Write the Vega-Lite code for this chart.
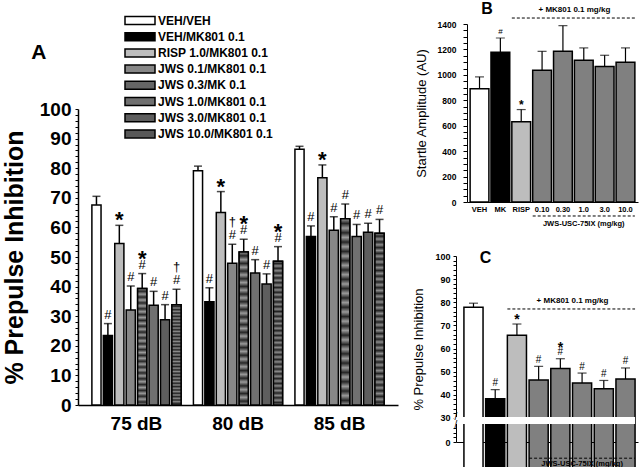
{
  "$schema": "https://vega.github.io/schema/vega-lite/v6.json",
  "background": "white",
  "padding": {"left": 2, "top": 0, "right": 0, "bottom": 0},
  "config": {
    "font": "Liberation Sans",
    "view": {"stroke": null},
    "axis": {"grid": false, "domainColor": "black", "tickColor": "black", "labelColor": "black", "titleColor": "black", "labelOverlap": false},
    "text": {"color": "black"}
  },
  "resolve": {"scale": {"fill": "independent"}, "legend": {"fill": "independent"}},
  "columns": 2,
  "spacing": 14,
  "align": "none",
  "concat": [
    {
      "width": 320,
      "height": 400,
      "title": {"text": "A", "anchor": "start", "frame": "bounds", "fontSize": 21, "fontWeight": "bold", "baseline": "alphabetic", "offset": -75, "dx": 29, "color": "black"},
      "data": {"values": [
        {"db": "75 dB", "g": "VEH/VEH", "v": 67.6, "hi": 70.5, "s1": "", "s2": ""},
        {"db": "75 dB", "g": "VEH/MK801 0.1", "v": 23.5, "hi": 27.5, "s1": "#", "s2": ""},
        {"db": "75 dB", "g": "RISP 1.0/MK801 0.1", "v": 54.6, "hi": 60.7, "s1": "*", "s2": ""},
        {"db": "75 dB", "g": "JWS 0.1/MK801 0.1", "v": 32.1, "hi": 40.2, "s1": "#", "s2": ""},
        {"db": "75 dB", "g": "JWS 0.3/MK 0.1", "v": 39.4, "hi": 44.4, "s1": "#", "s2": "*"},
        {"db": "75 dB", "g": "JWS 1.0/MK801 0.1", "v": 33.7, "hi": 38.4, "s1": "#", "s2": ""},
        {"db": "75 dB", "g": "JWS 3.0/MK801 0.1", "v": 28.8, "hi": 33.9, "s1": "#", "s2": ""},
        {"db": "75 dB", "g": "JWS 10.0/MK801 0.1", "v": 33.9, "hi": 39.1, "s1": "#", "s2": "†"},
        {"db": "80 dB", "g": "VEH/VEH", "v": 79.1, "hi": 80.7, "s1": "", "s2": ""},
        {"db": "80 dB", "g": "VEH/MK801 0.1", "v": 34.9, "hi": 39.6, "s1": "#", "s2": ""},
        {"db": "80 dB", "g": "RISP 1.0/MK801 0.1", "v": 65.0, "hi": 72.1, "s1": "*", "s2": ""},
        {"db": "80 dB", "g": "JWS 0.1/MK801 0.1", "v": 47.9, "hi": 54.3, "s1": "#", "s2": "†"},
        {"db": "80 dB", "g": "JWS 0.3/MK 0.1", "v": 51.7, "hi": 56.0, "s1": "#", "s2": "*"},
        {"db": "80 dB", "g": "JWS 1.0/MK801 0.1", "v": 44.6, "hi": 49.1, "s1": "#", "s2": ""},
        {"db": "80 dB", "g": "JWS 3.0/MK801 0.1", "v": 40.9, "hi": 44.3, "s1": "#", "s2": ""},
        {"db": "80 dB", "g": "JWS 10.0/MK801 0.1", "v": 48.6, "hi": 53.5, "s1": "#", "s2": "*"},
        {"db": "85 dB", "g": "VEH/VEH", "v": 86.4, "hi": 87.4, "s1": "", "s2": ""},
        {"db": "85 dB", "g": "VEH/MK801 0.1", "v": 56.9, "hi": 60.5, "s1": "#", "s2": ""},
        {"db": "85 dB", "g": "RISP 1.0/MK801 0.1", "v": 76.8, "hi": 81.1, "s1": "*", "s2": ""},
        {"db": "85 dB", "g": "JWS 0.1/MK801 0.1", "v": 59.0, "hi": 63.6, "s1": "#", "s2": ""},
        {"db": "85 dB", "g": "JWS 0.3/MK 0.1", "v": 62.9, "hi": 67.9, "s1": "#", "s2": ""},
        {"db": "85 dB", "g": "JWS 1.0/MK801 0.1", "v": 56.9, "hi": 61.0, "s1": "#", "s2": ""},
        {"db": "85 dB", "g": "JWS 3.0/MK801 0.1", "v": 58.4, "hi": 61.4, "s1": "#", "s2": ""},
        {"db": "85 dB", "g": "JWS 10.0/MK801 0.1", "v": 58.0, "hi": 62.7, "s1": "#", "s2": ""}
      ]},
      "encoding": {
        "x": {"field": "db", "type": "nominal", "title": null,
          "scale": {"domain": ["75 dB", "80 dB", "85 dB"], "paddingInner": 0, "paddingOuter": 0.076},
          "axis": {"ticks": false, "labelFontSize": 19, "labelFontWeight": "bold", "labelPadding": 9, "labelAngle": 0, "domainWidth": 1.5}},
        "xOffset": {"field": "g", "type": "nominal",
          "scale": {"domain": ["VEH/VEH", "VEH/MK801 0.1", "RISP 1.0/MK801 0.1", "JWS 0.1/MK801 0.1", "JWS 0.3/MK 0.1", "JWS 1.0/MK801 0.1", "JWS 3.0/MK801 0.1", "JWS 10.0/MK801 0.1"], "paddingInner": 0.2, "paddingOuter": 0.54}},
        "y": {"field": "v", "type": "quantitative", "title": "% Prepulse Inhibition",
          "scale": {"domain": [0, 100], "range": [400, 104], "nice": false},
          "axis": {"values": [0,2,4,6,8,10,12,14,16,18,20,22,24,26,28,30,32,34,36,38,40,42,44,46,48,50,52,54,56,58,60,62,64,66,68,70,72,74,76,78,80,82,84,86,88,90,92,94,96,98,100],
            "labelExpr": "datum.value % 10 === 0 ? datum.label : ''", "labelOverlap": false,
            "tickSize": 3, "labelPadding": 4, "labelFontSize": 19, "labelFontWeight": "bold",
            "titleFontSize": 25, "titleFontWeight": "bold", "titlePadding": 12, "domainWidth": 1.5}}
      },
      "layer": [
        {"mark": {"type": "rule", "color": "black", "strokeWidth": 1.5}, "encoding": {"y2": {"field": "hi"}}},
        {"mark": {"type": "tick", "color": "black", "thickness": 1.5, "size": 8}, "encoding": {"y": {"field": "hi", "type": "quantitative", "title": "% Prepulse Inhibition"}}},
        {"mark": {"type": "bar", "stroke": "black", "strokeWidth": 1.5},
          "encoding": {"fill": {"field": "g", "type": "nominal",
            "scale": {"domain": ["VEH/VEH", "VEH/MK801 0.1", "RISP 1.0/MK801 0.1", "JWS 0.1/MK801 0.1", "JWS 0.3/MK 0.1", "JWS 1.0/MK801 0.1", "JWS 3.0/MK801 0.1", "JWS 10.0/MK801 0.1"],
              "range": ["#ffffff", "#000000", "#bdbdbd", "#878787", "#666666", "#707070", "#5e5e5e", "#585858"]},
            "legend": {"orient": "none", "legendX": 46.5, "legendY": 0, "padding": 9.5, "title": null,
              "symbolType": "M-3.75,-1L3.75,-1L3.75,1L-3.75,1Z", "symbolSize": 64, "symbolStrokeColor": "black", "symbolStrokeWidth": 1.5, "symbolOpacity": 1,
              "labelFontSize": 12, "labelFontWeight": "bold", "labelColor": "black", "labelOffset": 12, "rowPadding": 2.2}}}},
        {"transform": [{"filter": "datum.g === 'JWS 0.3/MK 0.1'"}],
          "mark": {"type": "bar", "stroke": "black", "strokeWidth": 1.5,
            "fill": {"gradient": "linear", "x1": 0, "y1": 0, "x2": 0, "y2": 1, "stops": [
              {"offset": 0, "color": "#9a9a9a"}, {"offset": 0.025, "color": "#262626"}, {"offset": 0.05, "color": "#9a9a9a"}, {"offset": 0.075, "color": "#262626"},
              {"offset": 0.1, "color": "#9a9a9a"}, {"offset": 0.125, "color": "#262626"}, {"offset": 0.15, "color": "#9a9a9a"}, {"offset": 0.175, "color": "#262626"},
              {"offset": 0.2, "color": "#9a9a9a"}, {"offset": 0.225, "color": "#262626"}, {"offset": 0.25, "color": "#9a9a9a"}, {"offset": 0.275, "color": "#262626"},
              {"offset": 0.3, "color": "#9a9a9a"}, {"offset": 0.325, "color": "#262626"}, {"offset": 0.35, "color": "#9a9a9a"}, {"offset": 0.375, "color": "#262626"},
              {"offset": 0.4, "color": "#9a9a9a"}, {"offset": 0.425, "color": "#262626"}, {"offset": 0.45, "color": "#9a9a9a"}, {"offset": 0.475, "color": "#262626"},
              {"offset": 0.5, "color": "#9a9a9a"}, {"offset": 0.525, "color": "#262626"}, {"offset": 0.55, "color": "#9a9a9a"}, {"offset": 0.575, "color": "#262626"},
              {"offset": 0.6, "color": "#9a9a9a"}, {"offset": 0.625, "color": "#262626"}, {"offset": 0.65, "color": "#9a9a9a"}, {"offset": 0.675, "color": "#262626"},
              {"offset": 0.7, "color": "#9a9a9a"}, {"offset": 0.725, "color": "#262626"}, {"offset": 0.75, "color": "#9a9a9a"}, {"offset": 0.775, "color": "#262626"},
              {"offset": 0.8, "color": "#9a9a9a"}, {"offset": 0.825, "color": "#262626"}, {"offset": 0.85, "color": "#9a9a9a"}, {"offset": 0.875, "color": "#262626"},
              {"offset": 0.9, "color": "#9a9a9a"}, {"offset": 0.925, "color": "#262626"}, {"offset": 0.95, "color": "#9a9a9a"}, {"offset": 0.975, "color": "#262626"},
              {"offset": 1, "color": "#9a9a9a"}]}},
          "encoding": {}},
        {"transform": [{"filter": "datum.g === 'JWS 10.0/MK801 0.1'"}],
          "mark": {"type": "bar", "stroke": "black", "strokeWidth": 1.5,
            "fill": {"gradient": "linear", "x1": 0, "y1": 0, "x2": 0, "y2": 1, "stops": [
              {"offset": 0, "color": "#8a8a8a"}, {"offset": 0.0167, "color": "#222222"}, {"offset": 0.0333, "color": "#8a8a8a"}, {"offset": 0.05, "color": "#222222"},
              {"offset": 0.0667, "color": "#8a8a8a"}, {"offset": 0.0833, "color": "#222222"}, {"offset": 0.1, "color": "#8a8a8a"}, {"offset": 0.1167, "color": "#222222"},
              {"offset": 0.1333, "color": "#8a8a8a"}, {"offset": 0.15, "color": "#222222"}, {"offset": 0.1667, "color": "#8a8a8a"}, {"offset": 0.1833, "color": "#222222"},
              {"offset": 0.2, "color": "#8a8a8a"}, {"offset": 0.2167, "color": "#222222"}, {"offset": 0.2333, "color": "#8a8a8a"}, {"offset": 0.25, "color": "#222222"},
              {"offset": 0.2667, "color": "#8a8a8a"}, {"offset": 0.2833, "color": "#222222"}, {"offset": 0.3, "color": "#8a8a8a"}, {"offset": 0.3167, "color": "#222222"},
              {"offset": 0.3333, "color": "#8a8a8a"}, {"offset": 0.35, "color": "#222222"}, {"offset": 0.3667, "color": "#8a8a8a"}, {"offset": 0.3833, "color": "#222222"},
              {"offset": 0.4, "color": "#8a8a8a"}, {"offset": 0.4167, "color": "#222222"}, {"offset": 0.4333, "color": "#8a8a8a"}, {"offset": 0.45, "color": "#222222"},
              {"offset": 0.4667, "color": "#8a8a8a"}, {"offset": 0.4833, "color": "#222222"}, {"offset": 0.5, "color": "#8a8a8a"}, {"offset": 0.5167, "color": "#222222"},
              {"offset": 0.5333, "color": "#8a8a8a"}, {"offset": 0.55, "color": "#222222"}, {"offset": 0.5667, "color": "#8a8a8a"}, {"offset": 0.5833, "color": "#222222"},
              {"offset": 0.6, "color": "#8a8a8a"}, {"offset": 0.6167, "color": "#222222"}, {"offset": 0.6333, "color": "#8a8a8a"}, {"offset": 0.65, "color": "#222222"},
              {"offset": 0.6667, "color": "#8a8a8a"}, {"offset": 0.6833, "color": "#222222"}, {"offset": 0.7, "color": "#8a8a8a"}, {"offset": 0.7167, "color": "#222222"},
              {"offset": 0.7333, "color": "#8a8a8a"}, {"offset": 0.75, "color": "#222222"}, {"offset": 0.7667, "color": "#8a8a8a"}, {"offset": 0.7833, "color": "#222222"},
              {"offset": 0.8, "color": "#8a8a8a"}, {"offset": 0.8167, "color": "#222222"}, {"offset": 0.8333, "color": "#8a8a8a"}, {"offset": 0.85, "color": "#222222"},
              {"offset": 0.8667, "color": "#8a8a8a"}, {"offset": 0.8833, "color": "#222222"}, {"offset": 0.9, "color": "#8a8a8a"}, {"offset": 0.9167, "color": "#222222"},
              {"offset": 0.9333, "color": "#8a8a8a"}, {"offset": 0.95, "color": "#222222"}, {"offset": 0.9667, "color": "#8a8a8a"}, {"offset": 0.9833, "color": "#222222"},
              {"offset": 1, "color": "#8a8a8a"}]}},
          "encoding": {}},
        {"transform": [{"filter": "datum.s1 === '#'"}], "mark": {"type": "text", "fontSize": 13, "baseline": "alphabetic", "dy": -5},
          "encoding": {"y": {"field": "hi", "type": "quantitative", "title": "% Prepulse Inhibition"}, "text": {"field": "s1"}}},
        {"transform": [{"filter": "datum.s1 === '*'"}], "mark": {"type": "text", "fontSize": 22, "fontWeight": "bold", "baseline": "alphabetic", "dy": 2},
          "encoding": {"y": {"field": "hi", "type": "quantitative", "title": "% Prepulse Inhibition"}, "text": {"field": "s1"}}},
        {"transform": [{"filter": "datum.s2 === '*'"}], "mark": {"type": "text", "fontSize": 22, "fontWeight": "bold", "baseline": "alphabetic", "dy": -8},
          "encoding": {"y": {"field": "hi", "type": "quantitative", "title": "% Prepulse Inhibition"}, "text": {"field": "s2"}}},
        {"transform": [{"filter": "datum.s2 === '†'"}], "mark": {"type": "text", "fontSize": 13, "baseline": "alphabetic", "dy": -18},
          "encoding": {"y": {"field": "hi", "type": "quantitative", "title": "% Prepulse Inhibition"}, "text": {"field": "s2"}}}
      ]
    },
    {
      "columns": 1,
      "spacing": 21,
      "align": "none",
      "concat": [
        {
          "width": 171,
          "height": 197,
          "data": {"values": [
            {"g": "VEH", "v": 890, "hi": 984, "s": ""},
            {"g": "MK", "v": 1178, "hi": 1290, "s": "#"},
            {"g": "RISP", "v": 631, "hi": 727, "s": "*"},
            {"g": "0.10", "v": 1036, "hi": 1185, "s": ""},
            {"g": "0.30", "v": 1185, "hi": 1387, "s": ""},
            {"g": "1.0", "v": 1115, "hi": 1212, "s": ""},
            {"g": "3.0", "v": 1065, "hi": 1154, "s": ""},
            {"g": "10.0", "v": 1099, "hi": 1212, "s": ""}
          ]},
          "encoding": {
            "x": {"field": "g", "type": "nominal", "title": null,
              "scale": {"domain": ["VEH", "MK", "RISP", "0.10", "0.30", "1.0", "3.0", "10.0"], "paddingInner": 0.1, "paddingOuter": 0.15},
              "axis": {"ticks": false, "labelFontSize": 7.5, "labelFontWeight": "bold", "labelPadding": 3, "labelAngle": 0, "domainWidth": 1}},
            "y": {"field": "v", "type": "quantitative", "title": "Startle Amplitude (AU)",
              "scale": {"domain": [0, 1400], "range": [197, 19], "nice": false},
              "axis": {"values": [0,50,100,150,200,250,300,350,400,450,500,550,600,650,700,750,800,850,900,950,1000,1050,1100,1150,1200,1250,1300,1350,1400],
                "labelExpr": "datum.value % 200 === 0 ? datum.label : ''", "labelOverlap": false,
                "format": "d",
                "tickSize": 4, "labelPadding": 7, "labelFontSize": 8.5, "labelFontWeight": "bold",
                "titleFontSize": 13, "titleFontWeight": "normal", "titlePadding": 9, "domainWidth": 1}}
          },
          "layer": [
            {"mark": {"type": "rule", "color": "black", "strokeWidth": 1.2}, "encoding": {"y2": {"field": "hi"}}},
            {"mark": {"type": "tick", "color": "black", "thickness": 1.2, "size": 9}, "encoding": {"y": {"field": "hi", "type": "quantitative", "title": "Startle Amplitude (AU)"}}},
            {"mark": {"type": "bar", "stroke": "black", "strokeWidth": 1.5},
              "encoding": {"fill": {"field": "g", "type": "nominal", "legend": null,
                "scale": {"domain": ["VEH", "MK", "RISP", "0.10", "0.30", "1.0", "3.0", "10.0"], "range": ["#ffffff", "#000000", "#bdbdbd", "#808080", "#808080", "#808080", "#808080", "#808080"]}}}},
            {"transform": [{"filter": "datum.s === '#'"}], "mark": {"type": "text", "fontSize": 8, "baseline": "alphabetic", "dy": -4},
              "encoding": {"y": {"field": "hi", "type": "quantitative", "title": "Startle Amplitude (AU)"}, "text": {"field": "s"}}},
            {"transform": [{"filter": "datum.s === '*'"}], "mark": {"type": "text", "fontSize": 12, "fontWeight": "bold", "baseline": "alphabetic", "dy": -1},
              "encoding": {"y": {"field": "hi", "type": "quantitative", "title": "Startle Amplitude (AU)"}, "text": {"field": "s"}}},
            {
              "data": {"values": [{"a": "RISP", "b": "10.0", "y": 1447}, {"a": "0.10", "b": "10.0", "y": -110}]},
              "mark": {"type": "rule", "color": "black", "strokeWidth": 1, "strokeDash": [3, 2]},
              "encoding": {"x": {"field": "a", "type": "nominal", "bandPosition": 0, "title": null}, "x2": {"field": "b", "bandPosition": 1}, "y": {"field": "y", "type": "quantitative", "title": "Startle Amplitude (AU)"}}
            },
            {
              "data": {"values": [{"x": "1.0", "y": 1510, "t": "+ MK801 0.1 mg/kg"}]},
              "mark": {"type": "text", "fontSize": 8, "fontWeight": "bold", "baseline": "middle"},
              "encoding": {"x": {"field": "x", "type": "nominal", "bandPosition": 0, "title": null}, "y": {"field": "y", "type": "quantitative", "title": "Startle Amplitude (AU)"}, "text": {"field": "t"}}
            },
            {
              "data": {"values": [{"x": "VEH", "y": 1479, "t": "B"}]},
              "mark": {"type": "text", "fontSize": 16, "fontWeight": "bold", "baseline": "alphabetic", "align": "center"},
              "encoding": {"x": {"field": "x", "type": "nominal", "bandPosition": 0.9, "title": null}, "y": {"field": "y", "type": "quantitative", "title": "Startle Amplitude (AU)"}, "text": {"field": "t"}}
            },
            {
              "data": {"values": [{"x": "1.0", "y": -173, "t": "JWS-USC-75IX (mg/kg)"}]},
              "mark": {"type": "text", "fontSize": 7.5, "fontWeight": "bold", "baseline": "middle"},
              "encoding": {"x": {"field": "x", "type": "nominal", "title": null}, "y": {"field": "y", "type": "quantitative", "title": "Startle Amplitude (AU)"}, "text": {"field": "t"}}
            }
          ]
        },
        {
          "width": 171,
          "height": 186,
          "data": {"values": [
            {"g": "VEH", "v": 77.9, "hi": 79.6, "s1": "", "s2": ""},
            {"g": "MK", "v": 38.3, "hi": 42.2, "s1": "#", "s2": ""},
            {"g": "RISP", "v": 65.7, "hi": 70.6, "s1": "*", "s2": ""},
            {"g": "0.10", "v": 46.4, "hi": 52.3, "s1": "#", "s2": ""},
            {"g": "0.30", "v": 51.4, "hi": 55.6, "s1": "#", "s2": "*"},
            {"g": "1.0", "v": 45.1, "hi": 49.4, "s1": "#", "s2": ""},
            {"g": "3.0", "v": 42.6, "hi": 46.2, "s1": "#", "s2": ""},
            {"g": "10.0", "v": 46.8, "hi": 51.6, "s1": "#", "s2": ""}
          ]},
          "encoding": {
            "x": {"field": "g", "type": "nominal", "title": null,
              "scale": {"domain": ["VEH", "MK", "RISP", "0.10", "0.30", "1.0", "3.0", "10.0"], "range": [-11, 171], "paddingInner": 0.12, "paddingOuter": 0.25, "align": 0.73},
              "axis": {"ticks": false, "labelFontSize": 7.5, "labelFontWeight": "bold", "labelPadding": 3, "labelAngle": 0, "domainWidth": 1}},
            "y": {"field": "v", "type": "quantitative", "title": "% Prepulse Inhibition",
              "scale": {"domain": [19.6, 100], "nice": false, "zero": false},
              "axis": {"values": [19.6, 21.6, 23.6, 25.6, 30, 32, 34, 36, 38, 40, 42, 44, 46, 48, 50, 52, 54, 56, 58, 60, 62, 64, 66, 68, 70, 72, 74, 76, 78, 80, 82, 84, 86, 88, 90, 92, 94, 96, 98, 100],
                "labelExpr": "datum.value < 20 ? '0' : (datum.value >= 30 && datum.value % 10 === 0 ? datum.label : '')", "labelOverlap": false,
                "offset": 11,
                "tickSize": 3, "labelPadding": 3, "labelFontSize": 9, "labelFontWeight": "bold",
                "titleFontSize": 13, "titleFontWeight": "normal", "titlePadding": 9, "domainWidth": 1}}
          },
          "layer": [
            {"mark": {"type": "rule", "color": "black", "strokeWidth": 1.2}, "encoding": {"y2": {"field": "hi"}}},
            {"mark": {"type": "tick", "color": "black", "thickness": 1.2, "size": 9}, "encoding": {"y": {"field": "hi", "type": "quantitative", "title": "% Prepulse Inhibition"}}},
            {"mark": {"type": "bar", "stroke": "black", "strokeWidth": 1.5},
              "encoding": {"fill": {"field": "g", "type": "nominal", "legend": null,
                "scale": {"domain": ["VEH", "MK", "RISP", "0.10", "0.30", "1.0", "3.0", "10.0"], "range": ["#ffffff", "#000000", "#bdbdbd", "#808080", "#808080", "#808080", "#808080", "#808080"]}}}},
            {"transform": [{"filter": "datum.s1 === '#'"}], "mark": {"type": "text", "fontSize": 10, "baseline": "alphabetic", "dy": -3.5},
              "encoding": {"y": {"field": "hi", "type": "quantitative", "title": "% Prepulse Inhibition"}, "text": {"field": "s1"}}},
            {"transform": [{"filter": "datum.s1 === '*'"}], "mark": {"type": "text", "fontSize": 14, "fontWeight": "bold", "baseline": "alphabetic", "dy": 0},
              "encoding": {"y": {"field": "hi", "type": "quantitative", "title": "% Prepulse Inhibition"}, "text": {"field": "s1"}}},
            {"transform": [{"filter": "datum.s2 === '*'"}], "mark": {"type": "text", "fontSize": 14, "fontWeight": "bold", "baseline": "alphabetic", "dy": -7},
              "encoding": {"y": {"field": "hi", "type": "quantitative", "title": "% Prepulse Inhibition"}, "text": {"field": "s2"}}},
            {
              "data": {"values": [{"a": "VEH", "b": "10.0", "y1": 27.4, "y2": 30.4}]},
              "mark": {"type": "rect", "fill": "white"},
              "encoding": {"x": {"field": "a", "type": "nominal", "bandPosition": -0.55, "title": null}, "x2": {"field": "b", "bandPosition": 1}, "y": {"field": "y1", "type": "quantitative", "title": "% Prepulse Inhibition"}, "y2": {"field": "y2"}}
            },
            {
              "data": {"values": [{"x": "VEH", "y": 30.6, "t": "/"}, {"x": "VEH", "y": 26.9, "t": "/"}]},
              "mark": {"type": "text", "fontSize": 10, "baseline": "middle", "align": "center"},
              "encoding": {"x": {"field": "x", "type": "nominal", "bandPosition": -0.42, "title": null}, "y": {"field": "y", "type": "quantitative", "title": "% Prepulse Inhibition"}, "text": {"field": "t"}}
            },
            {
              "data": {"values": [{"a": "RISP", "b": "10.0", "y": 77.1}, {"a": "0.10", "b": "10.0", "y": 12.6}]},
              "mark": {"type": "rule", "color": "black", "strokeWidth": 1, "strokeDash": [3, 2]},
              "encoding": {"x": {"field": "a", "type": "nominal", "bandPosition": 0, "title": null}, "x2": {"field": "b", "bandPosition": 1}, "y": {"field": "y", "type": "quantitative", "title": "% Prepulse Inhibition"}}
            },
            {
              "data": {"values": [{"x": "1.0", "y": 80.6, "t": "+ MK801 0.1 mg/kg"}]},
              "mark": {"type": "text", "fontSize": 8, "fontWeight": "bold", "baseline": "middle"},
              "encoding": {"x": {"field": "x", "type": "nominal", "bandPosition": 0, "title": null}, "y": {"field": "y", "type": "quantitative", "title": "% Prepulse Inhibition"}, "text": {"field": "t"}}
            },
            {
              "data": {"values": [{"x": "MK", "y": 97, "t": "C"}]},
              "mark": {"type": "text", "fontSize": 16, "fontWeight": "bold", "baseline": "alphabetic", "align": "center"},
              "encoding": {"x": {"field": "x", "type": "nominal", "bandPosition": 0, "title": null}, "y": {"field": "y", "type": "quantitative", "title": "% Prepulse Inhibition"}, "text": {"field": "t"}}
            },
            {
              "data": {"values": [{"x": "1.0", "y": 10, "t": "JWS-USC-75IX (mg/kg)"}]},
              "mark": {"type": "text", "fontSize": 7.5, "fontWeight": "bold", "baseline": "middle"},
              "encoding": {"x": {"field": "x", "type": "nominal", "title": null}, "y": {"field": "y", "type": "quantitative", "title": "% Prepulse Inhibition"}, "text": {"field": "t"}}
            }
          ]
        }
      ]
    }
  ]
}
